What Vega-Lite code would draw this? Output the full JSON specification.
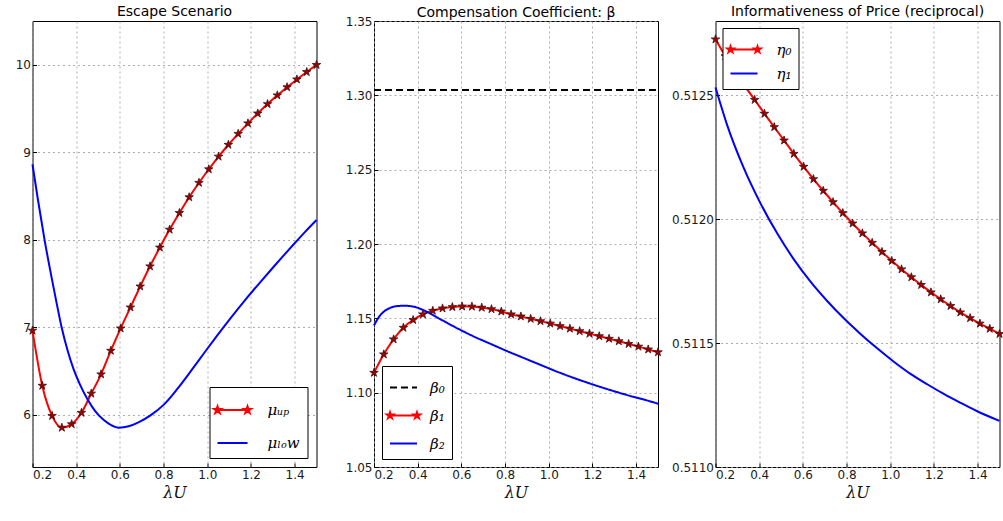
{
  "$schema": "https://vega.github.io/schema/vega-lite/v6.json",
  "autosize": {"type": "pad"},
  "padding": {"left": 14.5, "top": 4, "right": 0, "bottom": 0},
  "background": "white",
  "spacing": 57.5,
  "bounds": "flush",
  "datasets": {
    "escape": [
      {"series": "μᵤₚ", "x": 0.2, "y": 6.96},
      {"series": "μᵤₚ", "x": 0.2448, "y": 6.33},
      {"series": "μᵤₚ", "x": 0.2897, "y": 5.985},
      {"series": "μᵤₚ", "x": 0.3345, "y": 5.85},
      {"series": "μᵤₚ", "x": 0.3793, "y": 5.89},
      {"series": "μᵤₚ", "x": 0.4241, "y": 6.02},
      {"series": "μᵤₚ", "x": 0.469, "y": 6.24},
      {"series": "μᵤₚ", "x": 0.5138, "y": 6.46},
      {"series": "μᵤₚ", "x": 0.5586, "y": 6.73},
      {"series": "μᵤₚ", "x": 0.6034, "y": 6.985},
      {"series": "μᵤₚ", "x": 0.6483, "y": 7.225},
      {"series": "μᵤₚ", "x": 0.6931, "y": 7.465},
      {"series": "μᵤₚ", "x": 0.7379, "y": 7.695},
      {"series": "μᵤₚ", "x": 0.7828, "y": 7.91},
      {"series": "μᵤₚ", "x": 0.8276, "y": 8.115},
      {"series": "μᵤₚ", "x": 0.8724, "y": 8.305},
      {"series": "μᵤₚ", "x": 0.9172, "y": 8.485},
      {"series": "μᵤₚ", "x": 0.9621, "y": 8.65},
      {"series": "μᵤₚ", "x": 1.0069, "y": 8.805},
      {"series": "μᵤₚ", "x": 1.0517, "y": 8.95},
      {"series": "μᵤₚ", "x": 1.0966, "y": 9.085},
      {"series": "μᵤₚ", "x": 1.1414, "y": 9.21},
      {"series": "μᵤₚ", "x": 1.1862, "y": 9.33},
      {"series": "μᵤₚ", "x": 1.231, "y": 9.443},
      {"series": "μᵤₚ", "x": 1.2759, "y": 9.55},
      {"series": "μᵤₚ", "x": 1.3207, "y": 9.65},
      {"series": "μᵤₚ", "x": 1.3655, "y": 9.743},
      {"series": "μᵤₚ", "x": 1.4103, "y": 9.832},
      {"series": "μᵤₚ", "x": 1.4552, "y": 9.917},
      {"series": "μᵤₚ", "x": 1.5, "y": 9.998},
      {"series": "μₗₒw", "x": 0.2, "y": 8.86},
      {"series": "μₗₒw", "x": 0.224, "y": 8.47},
      {"series": "μₗₒw", "x": 0.255, "y": 8.0},
      {"series": "μₗₒw", "x": 0.288, "y": 7.56},
      {"series": "μₗₒw", "x": 0.31, "y": 7.28},
      {"series": "μₗₒw", "x": 0.333, "y": 7.0},
      {"series": "μₗₒw", "x": 0.362, "y": 6.72},
      {"series": "μₗₒw", "x": 0.388, "y": 6.52},
      {"series": "μₗₒw", "x": 0.418, "y": 6.34},
      {"series": "μₗₒw", "x": 0.453, "y": 6.17},
      {"series": "μₗₒw", "x": 0.487, "y": 6.04},
      {"series": "μₗₒw", "x": 0.525, "y": 5.94},
      {"series": "μₗₒw", "x": 0.56, "y": 5.88},
      {"series": "μₗₒw", "x": 0.595, "y": 5.85},
      {"series": "μₗₒw", "x": 0.64, "y": 5.865},
      {"series": "μₗₒw", "x": 0.685, "y": 5.91},
      {"series": "μₗₒw", "x": 0.74, "y": 5.99},
      {"series": "μₗₒw", "x": 0.8, "y": 6.11},
      {"series": "μₗₒw", "x": 0.862, "y": 6.29},
      {"series": "μₗₒw", "x": 0.923, "y": 6.491},
      {"series": "μₗₒw", "x": 0.984, "y": 6.698},
      {"series": "μₗₒw", "x": 1.045, "y": 6.902},
      {"series": "μₗₒw", "x": 1.106, "y": 7.1},
      {"series": "μₗₒw", "x": 1.175, "y": 7.314},
      {"series": "μₗₒw", "x": 1.24, "y": 7.506},
      {"series": "μₗₒw", "x": 1.304, "y": 7.69},
      {"series": "μₗₒw", "x": 1.35, "y": 7.82},
      {"series": "μₗₒw", "x": 1.404, "y": 7.97},
      {"series": "μₗₒw", "x": 1.45, "y": 8.095},
      {"series": "μₗₒw", "x": 1.5, "y": 8.225}
    ],
    "beta": [
      {"series": "β₀", "x": 0.2, "y": 1.3036},
      {"series": "β₀", "x": 1.5, "y": 1.3036},
      {"series": "β₁", "x": 0.2, "y": 1.1134},
      {"series": "β₁", "x": 0.2448, "y": 1.1258},
      {"series": "β₁", "x": 0.2897, "y": 1.1359},
      {"series": "β₁", "x": 0.3345, "y": 1.1437},
      {"series": "β₁", "x": 0.3793, "y": 1.1489},
      {"series": "β₁", "x": 0.4241, "y": 1.1527},
      {"series": "β₁", "x": 0.469, "y": 1.1551},
      {"series": "β₁", "x": 0.5138, "y": 1.1567},
      {"series": "β₁", "x": 0.5586, "y": 1.1576},
      {"series": "β₁", "x": 0.6034, "y": 1.158},
      {"series": "β₁", "x": 0.6483, "y": 1.1579},
      {"series": "β₁", "x": 0.6931, "y": 1.1572},
      {"series": "β₁", "x": 0.7379, "y": 1.1562},
      {"series": "β₁", "x": 0.7828, "y": 1.1546},
      {"series": "β₁", "x": 0.8276, "y": 1.1527},
      {"series": "β₁", "x": 0.8724, "y": 1.1513},
      {"series": "β₁", "x": 0.9172, "y": 1.1497},
      {"series": "β₁", "x": 0.9621, "y": 1.1481},
      {"series": "β₁", "x": 1.0069, "y": 1.1465},
      {"series": "β₁", "x": 1.0517, "y": 1.1448},
      {"series": "β₁", "x": 1.0966, "y": 1.1431},
      {"series": "β₁", "x": 1.1414, "y": 1.1414},
      {"series": "β₁", "x": 1.1862, "y": 1.1397},
      {"series": "β₁", "x": 1.231, "y": 1.138},
      {"series": "β₁", "x": 1.2759, "y": 1.1363},
      {"series": "β₁", "x": 1.3207, "y": 1.1346},
      {"series": "β₁", "x": 1.3655, "y": 1.1328},
      {"series": "β₁", "x": 1.4103, "y": 1.131},
      {"series": "β₁", "x": 1.4552, "y": 1.1291},
      {"series": "β₁", "x": 1.5, "y": 1.1272},
      {"series": "β₂", "x": 0.2, "y": 1.1452},
      {"series": "β₂", "x": 0.223, "y": 1.151},
      {"series": "β₂", "x": 0.246, "y": 1.1546},
      {"series": "β₂", "x": 0.269, "y": 1.1567},
      {"series": "β₂", "x": 0.292, "y": 1.1579},
      {"series": "β₂", "x": 0.337, "y": 1.1585},
      {"series": "β₂", "x": 0.383, "y": 1.1578},
      {"series": "β₂", "x": 0.429, "y": 1.1553},
      {"series": "β₂", "x": 0.505, "y": 1.1493},
      {"series": "β₂", "x": 0.581, "y": 1.1433},
      {"series": "β₂", "x": 0.658, "y": 1.1377},
      {"series": "β₂", "x": 0.734, "y": 1.1328},
      {"series": "β₂", "x": 0.81, "y": 1.1279},
      {"series": "β₂", "x": 0.904, "y": 1.1222},
      {"series": "β₂", "x": 0.98, "y": 1.1176},
      {"series": "β₂", "x": 1.056, "y": 1.1131},
      {"series": "β₂", "x": 1.132, "y": 1.109},
      {"series": "β₂", "x": 1.208, "y": 1.1052},
      {"series": "β₂", "x": 1.285, "y": 1.1016},
      {"series": "β₂", "x": 1.361, "y": 1.0983},
      {"series": "β₂", "x": 1.437, "y": 1.0953},
      {"series": "β₂", "x": 1.5, "y": 1.0926}
    ],
    "eta": [
      {"series": "η₀", "x": 0.2, "y": 0.512726},
      {"series": "η₀", "x": 0.2448, "y": 0.512658},
      {"series": "η₀", "x": 0.2897, "y": 0.512595},
      {"series": "η₀", "x": 0.3345, "y": 0.512537},
      {"series": "η₀", "x": 0.3793, "y": 0.512482},
      {"series": "η₀", "x": 0.4241, "y": 0.512426},
      {"series": "η₀", "x": 0.469, "y": 0.512372},
      {"series": "η₀", "x": 0.5138, "y": 0.512318},
      {"series": "η₀", "x": 0.5586, "y": 0.512264},
      {"series": "η₀", "x": 0.6034, "y": 0.512212},
      {"series": "η₀", "x": 0.6483, "y": 0.512162},
      {"series": "η₀", "x": 0.6931, "y": 0.512115},
      {"series": "η₀", "x": 0.7379, "y": 0.512069},
      {"series": "η₀", "x": 0.7828, "y": 0.512025},
      {"series": "η₀", "x": 0.8276, "y": 0.511983},
      {"series": "η₀", "x": 0.8724, "y": 0.511943},
      {"series": "η₀", "x": 0.9172, "y": 0.511905},
      {"series": "η₀", "x": 0.9621, "y": 0.511868},
      {"series": "η₀", "x": 1.0069, "y": 0.511832},
      {"series": "η₀", "x": 1.0517, "y": 0.511798},
      {"series": "η₀", "x": 1.0966, "y": 0.511766},
      {"series": "η₀", "x": 1.1414, "y": 0.511735},
      {"series": "η₀", "x": 1.1862, "y": 0.511705},
      {"series": "η₀", "x": 1.231, "y": 0.511677},
      {"series": "η₀", "x": 1.2759, "y": 0.51165},
      {"series": "η₀", "x": 1.3207, "y": 0.511624},
      {"series": "η₀", "x": 1.3655, "y": 0.511601},
      {"series": "η₀", "x": 1.4103, "y": 0.511579},
      {"series": "η₀", "x": 1.4552, "y": 0.511558},
      {"series": "η₀", "x": 1.5, "y": 0.511537},
      {"series": "η₁", "x": 0.2, "y": 0.512532},
      {"series": "η₁", "x": 0.2534, "y": 0.51238},
      {"series": "η₁", "x": 0.3297, "y": 0.512206},
      {"series": "η₁", "x": 0.406, "y": 0.512064},
      {"series": "η₁", "x": 0.4823, "y": 0.511943},
      {"series": "η₁", "x": 0.5586, "y": 0.511838},
      {"series": "η₁", "x": 0.6349, "y": 0.511748},
      {"series": "η₁", "x": 0.7112, "y": 0.51167},
      {"series": "η₁", "x": 0.7874, "y": 0.5116},
      {"series": "η₁", "x": 0.8637, "y": 0.511537},
      {"series": "η₁", "x": 0.94, "y": 0.511479},
      {"series": "η₁", "x": 1.0163, "y": 0.511425},
      {"series": "η₁", "x": 1.0926, "y": 0.511376},
      {"series": "η₁", "x": 1.169, "y": 0.511334},
      {"series": "η₁", "x": 1.245, "y": 0.511295},
      {"series": "η₁", "x": 1.3215, "y": 0.511259},
      {"series": "η₁", "x": 1.398, "y": 0.511225},
      {"series": "η₁", "x": 1.5, "y": 0.511186}
    ]
  },
  "hconcat": [
    {
      "width": 284,
      "height": 446,
      "title": "Escape Scenario",
      "data": {"name": "escape"},
      "layer": [
        {
          "mark": {"type": "line", "strokeWidth": 2, "interpolate": "monotone"},
          "encoding": {
            "x": {"field": "x", "type": "quantitative", "scale": {"domain": [0.2, 1.5], "nice": false, "zero": false}, "axis": {"values": [0.2, 0.4, 0.6, 0.8, 1.0, 1.2, 1.4], "format": ".1f", "title": "λU"}},
            "y": {"field": "y", "type": "quantitative", "scale": {"domain": [5.4, 10.5], "nice": false, "zero": false}, "axis": {"values": [6, 7, 8, 9, 10], "format": "d", "title": null}},
            "color": {
              "field": "series", "type": "nominal",
              "scale": {"domain": ["μᵤₚ", "μₗₒw"], "range": ["#ff0000", "#0000ff"]},
              "legend": {
                "title": null, "orient": "bottom-right", "offset": 9, "padding": 7, "rowPadding": 9,
                "fillColor": "white", "strokeColor": "black", "cornerRadius": 0,
                "symbolSize": 900, "symbolStrokeWidth": 2, "labelOffset": 19,
                "labelFont": "DejaVu Serif", "labelFontStyle": "italic", "labelFontSize": 15, "labelColor": "black",
                "encode": {"symbols": {"update": {
                  "shape": {"signal": "datum.value === 'μᵤₚ' ? 'M-1,0L1,0M-1,-0.24L-0.9461,-0.0742L-0.7718,-0.0742L-0.9129,0.0283L-0.8589,0.1942L-1,0.0917L-1.1411,0.1942L-1.0871,0.0283L-1.2282,-0.0742L-1.0539,-0.0742ZM1,-0.24L1.0539,-0.0742L1.2282,-0.0742L1.0871,0.0283L1.1411,0.1942L1,0.0917L0.8589,0.1942L0.9129,0.0283L0.7718,-0.0742L0.9461,-0.0742Z' : 'M-1,0L1,0'"},
                  "fill": {"signal": "datum.value === 'μᵤₚ' ? '#a00000' : 'transparent'"},
                  "stroke": {"signal": "datum.value === 'μᵤₚ' ? '#ff0000' : '#0000ff'"},
                  "strokeWidth": {"value": 2}
                }}}
              }
            }
          }
        },
        {
          "transform": [{"filter": "datum.series === 'μᵤₚ'"}],
          "mark": {"type": "point", "shape": "M0,-1L0.2245,-0.309L0.951,-0.309L0.363,0.118L0.588,0.809L0,0.382L-0.588,0.809L-0.363,0.118L-0.951,-0.309L-0.2245,-0.309Z", "size": 80, "filled": true, "fill": "#a00000", "stroke": "#401010", "strokeWidth": 0.8, "opacity": 1},
          "encoding": {
            "x": {"field": "x", "type": "quantitative"},
            "y": {"field": "y", "type": "quantitative"}
          }
        }
      ]
    },
    {
      "width": 284,
      "height": 446,
      "title": {"text": "Compensation Coefficient: β", "offset": -5},
      "data": {"name": "beta"},
      "layer": [
        {
          "mark": {"type": "line", "strokeWidth": 2, "interpolate": "monotone"},
          "encoding": {
            "x": {"field": "x", "type": "quantitative", "scale": {"domain": [0.2, 1.5], "nice": false, "zero": false}, "axis": {"values": [0.2, 0.4, 0.6, 0.8, 1.0, 1.2, 1.4], "format": ".1f", "title": "λU"}},
            "y": {"field": "y", "type": "quantitative", "scale": {"domain": [1.05, 1.35], "nice": false, "zero": false}, "axis": {"values": [1.05, 1.1, 1.15, 1.2, 1.25, 1.3, 1.35], "format": ".2f", "title": null}},
            "strokeDash": {"field": "series", "type": "nominal", "scale": {"domain": ["β₀", "β₁", "β₂"], "range": [[7, 4], [1, 0], [1, 0]]}, "legend": null},
            "color": {
              "field": "series", "type": "nominal",
              "scale": {"domain": ["β₀", "β₁", "β₂"], "range": ["#000000", "#ff0000", "#0000ff"]},
              "legend": {
                "title": null, "orient": "bottom-left", "offset": 8, "padding": 7, "rowPadding": 5,
                "fillColor": "white", "strokeColor": "black", "cornerRadius": 0,
                "symbolSize": 729, "symbolStrokeWidth": 2, "labelOffset": 12,
                "labelFont": "DejaVu Serif", "labelFontStyle": "italic", "labelFontSize": 15, "labelColor": "black",
                "encode": {"symbols": {"update": {
                  "shape": {"signal": "datum.value === 'β₁' ? 'M-1,0L1,0M-1,-0.24L-0.9461,-0.0742L-0.7718,-0.0742L-0.9129,0.0283L-0.8589,0.1942L-1,0.0917L-1.1411,0.1942L-1.0871,0.0283L-1.2282,-0.0742L-1.0539,-0.0742ZM1,-0.24L1.0539,-0.0742L1.2282,-0.0742L1.0871,0.0283L1.1411,0.1942L1,0.0917L0.8589,0.1942L0.9129,0.0283L0.7718,-0.0742L0.9461,-0.0742Z' : 'M-1,0L1,0'"},
                  "fill": {"signal": "datum.value === 'β₁' ? '#a00000' : 'transparent'"},
                  "stroke": {"signal": "datum.value === 'β₁' ? '#ff0000' : (datum.value === 'β₀' ? '#000000' : '#0000ff')"},
                  "strokeDash": {"signal": "datum.value === 'β₀' ? [6, 4] : [1, 0]"},
                  "strokeWidth": {"value": 2}
                }}}
              }
            }
          }
        },
        {
          "transform": [{"filter": "datum.series === 'β₁'"}],
          "mark": {"type": "point", "shape": "M0,-1L0.2245,-0.309L0.951,-0.309L0.363,0.118L0.588,0.809L0,0.382L-0.588,0.809L-0.363,0.118L-0.951,-0.309L-0.2245,-0.309Z", "size": 80, "filled": true, "fill": "#a00000", "stroke": "#401010", "strokeWidth": 0.8, "opacity": 1},
          "encoding": {
            "x": {"field": "x", "type": "quantitative"},
            "y": {"field": "y", "type": "quantitative"}
          }
        }
      ]
    },
    {
      "width": 284,
      "height": 446,
      "title": "Informativeness of Price (reciprocal)",
      "data": {"name": "eta"},
      "layer": [
        {
          "mark": {"type": "line", "strokeWidth": 2, "interpolate": "monotone"},
          "encoding": {
            "x": {"field": "x", "type": "quantitative", "scale": {"domain": [0.2, 1.5], "nice": false, "zero": false}, "axis": {"values": [0.2, 0.4, 0.6, 0.8, 1.0, 1.2, 1.4], "format": ".1f", "title": "λU"}},
            "y": {"field": "y", "type": "quantitative", "scale": {"domain": [0.511, 0.5128], "nice": false, "zero": false}, "axis": {"values": [0.511, 0.5115, 0.512, 0.5125], "format": ".4f", "title": null}},
            "color": {
              "field": "series", "type": "nominal",
              "scale": {"domain": ["η₀", "η₁"], "range": ["#ff0000", "#0000ff"]},
              "legend": {
                "title": null, "orient": "top-left", "offset": 7, "padding": 7, "rowPadding": 1,
                "fillColor": "white", "strokeColor": "black", "cornerRadius": 0,
                "symbolSize": 729, "symbolStrokeWidth": 2, "labelOffset": 18,
                "labelFont": "DejaVu Serif", "labelFontStyle": "italic", "labelFontSize": 15, "labelColor": "black",
                "encode": {"symbols": {"update": {
                  "shape": {"signal": "datum.value === 'η₀' ? 'M-1,0L1,0M-1,-0.24L-0.9461,-0.0742L-0.7718,-0.0742L-0.9129,0.0283L-0.8589,0.1942L-1,0.0917L-1.1411,0.1942L-1.0871,0.0283L-1.2282,-0.0742L-1.0539,-0.0742ZM1,-0.24L1.0539,-0.0742L1.2282,-0.0742L1.0871,0.0283L1.1411,0.1942L1,0.0917L0.8589,0.1942L0.9129,0.0283L0.7718,-0.0742L0.9461,-0.0742Z' : 'M-1,0L1,0'"},
                  "fill": {"signal": "datum.value === 'η₀' ? '#a00000' : 'transparent'"},
                  "stroke": {"signal": "datum.value === 'η₀' ? '#ff0000' : '#0000ff'"},
                  "strokeWidth": {"value": 2}
                }}}
              }
            }
          }
        },
        {
          "transform": [{"filter": "datum.series === 'η₀'"}],
          "mark": {"type": "point", "shape": "M0,-1L0.2245,-0.309L0.951,-0.309L0.363,0.118L0.588,0.809L0,0.382L-0.588,0.809L-0.363,0.118L-0.951,-0.309L-0.2245,-0.309Z", "size": 80, "filled": true, "fill": "#a00000", "stroke": "#401010", "strokeWidth": 0.8, "opacity": 1},
          "encoding": {
            "x": {"field": "x", "type": "quantitative"},
            "y": {"field": "y", "type": "quantitative"}
          }
        }
      ]
    }
  ],
  "resolve": {
    "scale": {"color": "independent", "strokeDash": "independent", "x": "independent", "y": "independent"},
    "legend": {"color": "independent", "strokeDash": "independent"}
  },
  "config": {
    "view": {"stroke": "#000000", "strokeWidth": 1},
    "title": {"font": "DejaVu Sans", "fontSize": 14, "fontWeight": "normal", "color": "#000000", "offset": 2},
    "axis": {
      "grid": true, "gridColor": "#999999", "gridDash": [2, 3], "gridWidth": 0.8,
      "domain": false, "ticks": true, "tickColor": "#000000", "tickSize": -4,
      "labelFont": "DejaVu Sans", "labelFontSize": 12, "labelColor": "#1a1a1a", "labelPadding": 6,
      "titleFont": "DejaVu Serif", "titleFontStyle": "italic", "titleFontWeight": "normal", "titleFontSize": 16, "titleColor": "#111111", "titlePadding": 4
    }
  }
}
